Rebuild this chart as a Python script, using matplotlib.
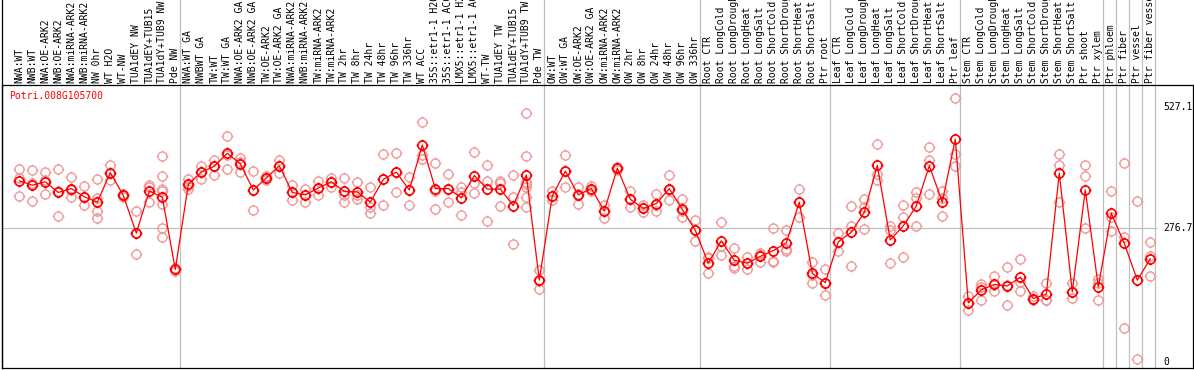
import numpy as np
import matplotlib
matplotlib.use('Agg')
import matplotlib.pyplot as plt
from matplotlib.path import Path
from matplotlib.transforms import blended_transform_factory

# %% data
gene = 'Potri.008G105700'

labels = [
    'NWA:WT', 'NWB:WT', 'NWA:OE-ARK2', 'NWB:OE-ARK2', 'NWA:miRNA-ARK2', 'NWB:miRNA-ARK2',
    'NW 0hr', 'WT H2O', 'WT-NW', 'TUA1dEY NW', 'TUA1dEY+TUB15', 'TUA1dY+TUB9 NW', 'Pde NW',
    'NWA:WT GA', 'NWBWT GA', 'TW:WT', 'TW:WT GA', 'NWA:OE-ARK2 GA', 'NWB:OE-ARK2 GA',
    'TW:OE-ARK2', 'TW:OE-ARK2 GA', 'NWA:miRNA-ARK2 GA', 'NWB:miRNA-ARK2 GA', 'TW:miRNA-ARK2',
    'TW:miRNA-ARK2', 'TW 2hr', 'TW 8hr', 'TW 24hr', 'TW 48hr', 'TW 96hr', 'TW 336hr', 'WT ACC',
    '35S::etr1-1 H2O', '35S::etr1-1 ACC', 'LMX5::etr1-1 H2O', 'LMX5::etr1-1 ACC', 'WT-TW',
    'TUA1dEY TW', 'TUA1dEY+TUB15', 'TUA1dY+TUB9 TW', 'Pde TW',
    'OW:WT', 'OW:WT GA', 'OW:OE-ARK2', 'OW:OE-ARK2 GA', 'OW:miRNA-ARK2', 'OW:miRNA-ARK2',
    'OW 2hr', 'OW 8hr', 'OW 24hr', 'OW 48hr', 'OW 96hr', 'OW 336hr',
    'Root CTR', 'Root LongCold', 'Root LongDrought', 'Root LongHeat', 'Root LongSalt',
    'Root ShortCold', 'Root ShortDrought', 'Root ShortHeat', 'Root ShortSalt', 'Ptr root',
    'Leaf CTR', 'Leaf LongCold', 'Leaf LongDrought', 'Leaf LongHeat', 'Leaf LongSalt',
    'Leaf ShortCold', 'Leaf ShortDrought', 'Leaf ShortHeat', 'Leaf ShortSalt', 'Ptr leaf',
    'Stem CTR', 'Stem LongCold', 'Stem LongDrought', 'Stem LongHeat', 'Stem LongSalt',
    'Stem ShortCold', 'Stem ShortDrought', 'Stem ShortHeat', 'Stem ShortSalt', 'Ptr shoot',
    'Ptr xylem', 'Ptr phloem', 'Ptr fiber', 'Ptr vessel', 'Ptr fiber vessel',
]

means = [
    374, 365, 372, 350, 358, 341, 330, 391, 344, 266, 353, 340, 191,
    367, 392, 404, 431, 409, 355, 380, 405, 350, 345, 359, 372, 352, 351, 330,
    377, 392, 355, 448, 358, 358, 339, 385, 357, 357, 323, 386, 169,
    343, 394, 345, 358, 312, 400, 336, 317, 327, 358, 315, 272,
    204, 250, 210, 204, 218, 230, 246, 330, 183, 164,
    248, 268, 309, 406, 252, 281, 322, 405, 330, 460,
    122, 149, 160, 157, 175, 131, 140, 390, 145, 355, 155,
    307, 245, 169, 213,
]

reps = [
    [398, 380, 343], [396, 370, 332], [392, 376, 347], [398, 352, 301], [381, 356, 341],
    [363, 340, 325], [378, 338, 312, 297], [407, 391, 376], [347, 344, 341], [312, 266, 222],
    [365, 362, 330], [425, 385, 358, 353, 327, 277, 258], [195, 191, 188],
    [378, 363, 358], [405, 393, 378], [418, 404, 387], [466, 428, 398], [422, 412, 393],
    [394, 355, 313], [384, 380, 376], [417, 405, 391], [365, 350, 334], [358, 345, 330],
    [374, 359, 344], [379, 372, 362], [379, 344, 330], [371, 345, 336], [361, 321, 307],
    [429, 377, 325], [431, 392, 350], [381, 355, 325], [495, 427, 420], [410, 352, 316],
    [388, 358, 330], [361, 350, 303], [433, 370, 348], [407, 374, 291], [374, 370, 323],
    [386, 341, 244], [515, 425, 372, 367, 362, 341, 321], [190, 167, 151],
    [352, 343, 334], [427, 394, 361], [361, 346, 327], [363, 358, 354], [325, 312, 297],
    [403, 400, 396], [352, 336, 319], [325, 317, 309], [346, 324, 312], [386, 355, 334],
    [336, 312, 299], [294, 272, 250],
    [216, 214, 184], [288, 240, 221], [235, 199, 195], [217, 204, 191], [226, 221, 207],
    [276, 209, 207], [272, 233, 230], [358, 331, 299], [206, 180, 164], [191, 164, 138],
    [266, 248, 230], [323, 281, 198], [336, 321, 274], [451, 389, 376], [281, 272, 204],
    [325, 299, 216], [350, 339, 281], [443, 418, 346], [353, 338, 302], [544, 429, 405],
    [136, 122, 107], [162, 155, 129], [178, 159, 146], [197, 159, 118], [213, 166, 147],
    [136, 131, 129], [164, 129, 128], [429, 407, 331], [164, 145, 133], [407, 384, 276],
    [172, 164, 129], [353, 300, 271], [410, 259, 70], [332, 6], [247, 218, 178],
]

# group separators sit after these categories
group_ends = ['Pde NW', 'Pde TW', 'OW 336hr', 'Ptr root', 'Ptr leaf',
              'Ptr xylem', 'Ptr phloem', 'Ptr fiber', 'Ptr vessel', 'Ptr fiber vessel']

ref_vals = [527.1, 276.7, 0]
ref_text = ['527.1', '276.7', '0']

# %% marker: polygon circle with four little ticks
th = np.linspace(0, 2 * np.pi, 33)
cverts = np.column_stack([np.cos(th), np.sin(th)])
ccodes = [Path.MOVETO] + [Path.LINETO] * (len(th) - 2) + [Path.CLOSEPOLY]
verts = list(cverts)
codes = list(ccodes)
for a, b in [((0, 1), (0, 1.3)), ((0, -1), (0, -1.3)),
             ((1, 0), (1.3, 0)), ((-1, 0), (-1.3, 0))]:
    verts += [a, b]
    codes += [Path.MOVETO, Path.LINETO]
tick_circle = Path(verts, codes)

plt.rcParams['font.family'] = ['DejaVu Sans Mono']
fs = 7.0

W, H = 1194, 370
fig = plt.figure(figsize=(W / 100, H / 100), dpi=100)
top_px, bot_px, left_px, right_px = 85, 368, 2, 1193
ax = fig.add_axes([left_px / W, (H - bot_px) / H,
                   (right_px - left_px) / W, (bot_px - top_px) / H])

x = np.arange(len(labels))
x0, dx = 19.3, 13.0            # pixel of first point, pixel step
v0, pv = 362.0, 0.4844        # pixel of value 0, pixels per unit
ax.set_xlim((left_px - x0) / dx, (right_px - x0) / dx)
ax.set_ylim((v0 - bot_px) / pv, (v0 - top_px) / pv)
ax.set_xticks([])
ax.set_yticks([])
for s in ax.spines.values():
    s.set_linewidth(0.9)
    s.set_color('black')

trans = blended_transform_factory(ax.transData, ax.transAxes)
hdr = 1 + top_px / (bot_px - top_px)

# grey separators, running through the header
sep = [labels.index(g) + 0.36 for g in group_ends]
ax.vlines(sep, 0, hdr + 0.02, transform=trans, colors='#c0c0c0', lw=0.9,
          clip_on=False, zorder=0)
x_end = (1157 - x0) / dx
ax.hlines(276.7, ax.get_xlim()[0], x_end, colors='#c0c0c0', lw=0.9, zorder=0)
# left frame line goes through the header as well
ax.plot([ax.get_xlim()[0]] * 2, [0, hdr + 0.02], transform=trans, color='black',
        lw=0.9, clip_on=False)

# replicates
rx = np.concatenate([[i] * len(r) for i, r in enumerate(reps)])
ry = np.concatenate(reps)
ax.plot(rx, ry, ls='none', marker=tick_circle, ms=8.4, mfc='none', mec='#f09a9a',
        mew=1.0, zorder=2)

# means
ax.plot(x, means, color='red', lw=0.9, marker=tick_circle, ms=8.4, mfc='none',
        mec='red', mew=1.2, zorder=3)

# header labels
for i, lab in enumerate(labels):
    ax.text(i, 1 + 2 / (bot_px - top_px), lab, transform=trans, rotation=90,
            ha='center', va='bottom', fontsize=fs, color='black', clip_on=False)

# right side value labels
x_lab = (1163 - x0) / dx
for v, t in zip(ref_vals, ref_text):
    ax.text(x_lab, v, t, ha='left', va='center', fontsize=fs, color='black')

ax.text((9 - left_px) / (right_px - left_px), 1 - 11 / (bot_px - top_px), gene,
        transform=ax.transAxes, ha='left', va='center', fontsize=fs, color='red')

fig.savefig('out.png', dpi=100)
